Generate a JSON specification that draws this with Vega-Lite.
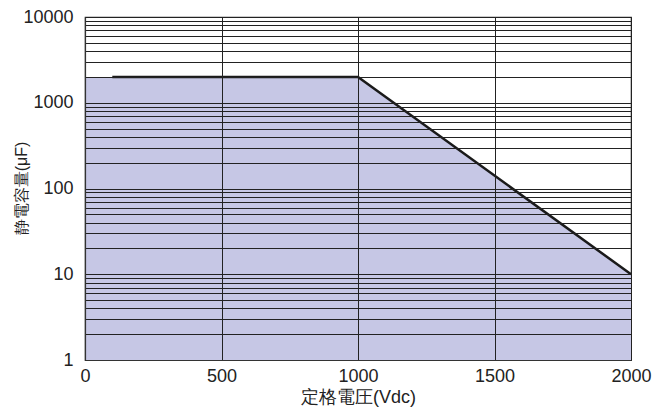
{
  "$schema": "https://vega.github.io/schema/vega-lite/v6.json",
  "width": 546,
  "height": 343,
  "autosize": "none",
  "padding": {"left": 85, "top": 17, "right": 23, "bottom": 48},
  "background": "white",
  "config": {
    "font": "Liberation Sans",
    "view": {"stroke": "#333333", "strokeWidth": 1.2}
  },
  "datasets": {
    "area": [
      {"voltage": 0, "capacitance": 2000, "base": 1},
      {"voltage": 1000, "capacitance": 2000, "base": 1},
      {"voltage": 2000, "capacitance": 10, "base": 1}
    ],
    "line": [
      {"voltage": 100, "capacitance": 2000},
      {"voltage": 1000, "capacitance": 2000},
      {"voltage": 2000, "capacitance": 10}
    ]
  },
  "layer": [
    {
      "data": {"name": "area"},
      "mark": {"type": "area", "color": "#c6c7e5", "opacity": 1},
      "encoding": {
        "x": {
          "field": "voltage", "type": "quantitative",
          "scale": {"domain": [0, 2000], "nice": false},
          "axis": {
            "values": [0, 500, 1000, 1500, 2000],
            "format": "d",
            "zindex": 1,
            "grid": true, "gridColor": "#222222", "gridWidth": 1, "gridOpacity": 1,
            "ticks": false, "domainColor": "#333333", "domainWidth": 1.2,
            "labelFont": "Liberation Sans", "labelFontSize": 18, "labelColor": "#222222",
            "labelPadding": 7, "labelFlush": false,
            "title": "定格電圧(Vdc)", "titleFont": "Liberation Sans", "titleFontSize": 18,
            "titleFontWeight": "normal", "titleColor": "#222222", "titlePadding": 3
          }
        },
        "y": {
          "field": "capacitance", "type": "quantitative",
          "scale": {"type": "log", "domain": [1, 10000], "nice": false},
          "axis": {
            "values": [1,2,3,4,5,6,7,8,9,10,20,30,40,50,60,70,80,90,100,200,300,400,500,600,700,800,900,1000,2000,3000,4000,5000,6000,7000,8000,9000,10000],
            "labelExpr": "(datum.value==1||datum.value==10||datum.value==100||datum.value==1000||datum.value==10000) ? format(datum.value,'d') : ''",
            "zindex": 1,
            "grid": true, "gridColor": "#222222", "gridWidth": 1, "gridOpacity": 1,
            "ticks": false, "domainColor": "#333333", "domainWidth": 1.2,
            "labelFont": "Liberation Sans", "labelFontSize": 18, "labelColor": "#222222",
            "labelPadding": 12, "labelFlush": false, "labelOverlap": false,
            "title": "静電容量(μF)", "titleFont": "Liberation Sans", "titleFontSize": 16,
            "titleFontWeight": "normal", "titleColor": "#222222",
            "titleX": -64, "titleY": 171, "titleAngle": -90,
            "titleAlign": "center", "titleBaseline": "middle"
          }
        },
        "y2": {"field": "base"}
      }
    },
    {
      "data": {"name": "line"},
      "mark": {"type": "line", "color": "#1a1a1a", "strokeWidth": 2.5, "zindex": 2},
      "encoding": {
        "x": {"field": "voltage", "type": "quantitative"},
        "y": {"field": "capacitance", "type": "quantitative"}
      }
    }
  ]
}
